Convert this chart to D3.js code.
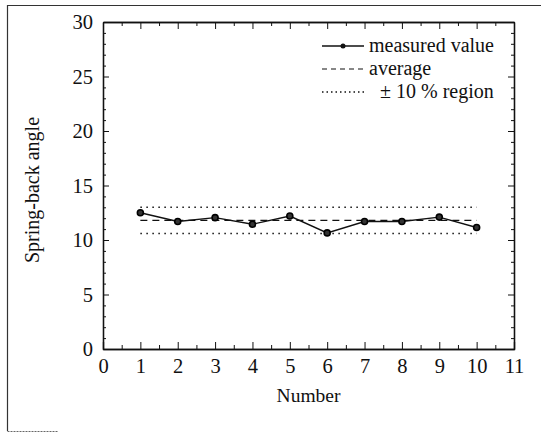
<!DOCTYPE html>
<html>
<head>
<meta charset="utf-8">
<script src="https://cdn.jsdelivr.net/npm/d3@7"></script>
<style>
  html, body { margin: 0; padding: 0; background: #fff; }
  svg { display: block; }
  text { font-family: "Liberation Serif", "Times New Roman", serif; fill: #111; }
</style>
</head>
<body>
<svg id="chart" width="541" height="434"></svg>
<script>
// ---- data ----
const numbers = [1, 2, 3, 4, 5, 6, 7, 8, 9, 10];
const springBack = [12.5, 11.7, 12.05, 11.45, 12.2, 10.65, 11.7, 11.7, 12.1, 11.15];
const averageValue = [11.8];
const regionBounds = [10.6, 13.0];
const lineSpan = [1, 10];
const xTickValues = [0, 1, 2, 3, 4, 5, 6, 7, 8, 9, 10, 11];
const yTickValues = [0, 5, 10, 15, 20, 25, 30];
const legendLabels = ["measured value", "average", "\u00b1 10 % region"];
const xTitle = "Number";
const yTitle = "Spring-back angle";

(function () {
// ---- layout ----
const svg = d3.select("#chart");
const pL = 103, pR = 514, pT = 22, pB = 349;

const x = d3.scaleLinear().domain([0, 11]).range([pL, pR]);
const y = d3.scaleLinear().domain([0, 30]).range([pB, pT]);

// outer frame (partial, as in the scanned figure)
svg.append("path")
  .attr("d", `M7.5,431 L7.5,5.5 L541,5.5`)
  .attr("fill", "none").attr("stroke", "#333").attr("stroke-width", 1.2);
svg.append("line")
  .attr("x1", 7.5).attr("x2", 58).attr("y1", 431.5).attr("y2", 431.5)
  .attr("stroke", "#666").attr("stroke-width", 1).attr("stroke-dasharray", "2,1");

const xMinor = d3.range(0, 11.01, 0.5).filter(v => v % 1 !== 0);
const yMinor = d3.range(0, 30.01, 1).filter(v => v % 5 !== 0);

function styleAxis(g) {
  g.selectAll(".domain").attr("stroke", "#111").attr("stroke-width", 1.3);
  g.selectAll(".tick line").attr("stroke", "#111").attr("stroke-width", 1);
  g.selectAll("text").attr("font-size", 20.5).attr("font-family", '"Liberation Serif", serif').attr("fill", "#111");
}

// bottom axis with labels
svg.append("g").attr("transform", `translate(0,${pB})`)
  .call(d3.axisBottom(x).tickValues(xTickValues).tickFormat(d3.format("d")).tickSize(-7).tickPadding(9))
  .call(styleAxis);
svg.append("g").attr("transform", `translate(0,${pB})`)
  .call(d3.axisBottom(x).tickValues(xMinor).tickFormat("").tickSize(-4).tickSizeOuter(0))
  .call(styleAxis);
// top axis
svg.append("g").attr("transform", `translate(0,${pT})`)
  .call(d3.axisTop(x).tickValues(xTickValues).tickFormat("").tickSize(-7).tickSizeOuter(0))
  .call(styleAxis);
svg.append("g").attr("transform", `translate(0,${pT})`)
  .call(d3.axisTop(x).tickValues(xMinor).tickFormat("").tickSize(-4).tickSizeOuter(0))
  .call(styleAxis);
// left axis with labels
svg.append("g").attr("transform", `translate(${pL},0)`)
  .call(d3.axisLeft(y).tickValues(yTickValues).tickFormat(d3.format("d")).tickSize(-6).tickPadding(10).tickSizeOuter(0))
  .call(styleAxis);
svg.append("g").attr("transform", `translate(${pL},0)`)
  .call(d3.axisLeft(y).tickValues(yMinor).tickFormat("").tickSize(-3).tickSizeOuter(0))
  .call(styleAxis);
// right axis
svg.append("g").attr("transform", `translate(${pR},0)`)
  .call(d3.axisRight(y).tickValues(yTickValues).tickFormat("").tickSize(-6).tickSizeOuter(0))
  .call(styleAxis);
svg.append("g").attr("transform", `translate(${pR},0)`)
  .call(d3.axisRight(y).tickValues(yMinor).tickFormat("").tickSize(-3).tickSizeOuter(0))
  .call(styleAxis);

// ±10% region (dotted)
regionBounds.forEach(b => {
  svg.append("line")
    .attr("x1", x(lineSpan[0])).attr("x2", x(lineSpan[1]))
    .attr("y1", y(b)).attr("y2", y(b))
    .attr("stroke", "#111").attr("stroke-width", 1.4).attr("stroke-dasharray", "1.5,4.5");
});
// average (dashed)
svg.append("line")
  .attr("x1", x(lineSpan[0])).attr("x2", x(lineSpan[1]))
  .attr("y1", y(averageValue[0])).attr("y2", y(averageValue[0]))
  .attr("stroke", "#111").attr("stroke-width", 1.2).attr("stroke-dasharray", "7,5");

// measured values
const pts = numbers.map((n, i) => [n, springBack[i]]);
svg.append("path").datum(pts)
  .attr("d", d3.line().x(d => x(d[0])).y(d => y(d[1])))
  .attr("fill", "none").attr("stroke", "#111").attr("stroke-width", 1.4);
svg.selectAll("circle.pt").data(pts).enter().append("circle")
  .attr("class", "pt")
  .attr("cx", d => x(d[0])).attr("cy", d => y(d[1])).attr("r", 3)
  .attr("fill", "#333").attr("stroke", "#000").attr("stroke-width", 1.6);

// legend
const lg = svg.append("g");
const lx1 = 322, lx2 = 364, ly0 = 46, ldy = 23;
lg.append("line").attr("x1", lx1).attr("x2", lx2).attr("y1", ly0).attr("y2", ly0)
  .attr("stroke", "#111").attr("stroke-width", 1.4);
lg.append("circle").attr("cx", (lx1 + lx2) / 2).attr("cy", ly0).attr("r", 2.5)
  .attr("fill", "#111");
lg.append("line").attr("x1", lx1).attr("x2", lx2).attr("y1", ly0 + ldy).attr("y2", ly0 + ldy)
  .attr("stroke", "#111").attr("stroke-width", 1.2).attr("stroke-dasharray", "5,4");
lg.append("line").attr("x1", lx1).attr("x2", lx2).attr("y1", ly0 + 2 * ldy).attr("y2", ly0 + 2 * ldy)
  .attr("stroke", "#111").attr("stroke-width", 1.3).attr("stroke-dasharray", "1.5,3");
legendLabels.forEach((t, i) => {
  lg.append("text")
    .attr("x", i === 2 ? 380 : 369).attr("y", ly0 + i * ldy).attr("dy", "0.32em")
    .attr("font-size", 20).text(t);
});

// axis titles
svg.append("text").attr("x", x(5.5)).attr("y", 402)
  .attr("text-anchor", "middle").attr("font-size", 19.5).text(xTitle);
svg.append("text").attr("transform", `translate(39,190) rotate(-90)`)
  .attr("text-anchor", "middle").attr("font-size", 20).text(yTitle);
})();
</script>
</body>
</html>
